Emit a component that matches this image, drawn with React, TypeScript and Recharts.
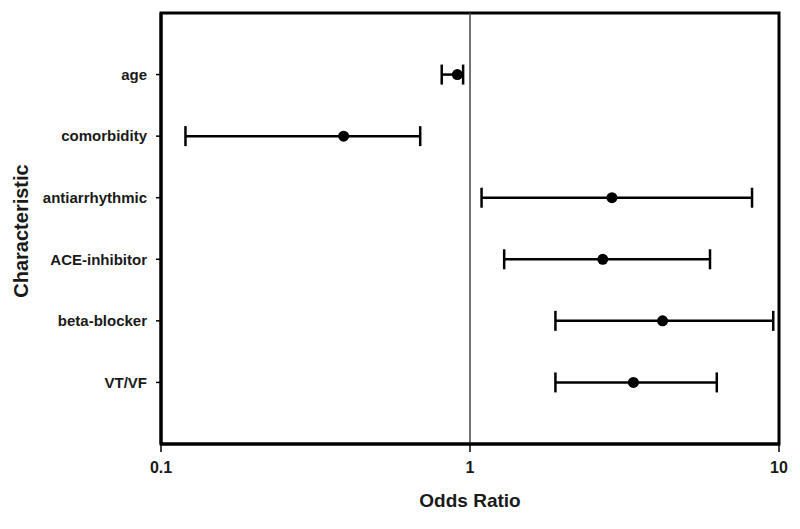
import {
  ScatterChart,
  Scatter,
  ErrorBar,
  XAxis,
  YAxis,
  ReferenceLine,
  ReferenceArea,
  Customized,
} from "recharts";

const categories = [
  "age",
  "comorbidity",
  "antiarrhythmic",
  "ACE-inhibitor",
  "beta-blocker",
  "VT/VF",
];
const oddsRatio = [0.91, 0.39, 2.88, 2.69, 4.2, 3.38];
const lowerCI = [0.81, 0.12, 1.09, 1.29, 1.89, 1.89];
const upperCI = [0.95, 0.69, 8.18, 5.98, 9.58, 6.29];
const xTicks = [0.1, 1, 10];

const FONT = '"Liberation Sans", Arial, Helvetica, sans-serif';

// ErrorBar wants offsets from the point, not absolute bounds
const data = categories.map((name, i) => ({
  name,
  pos: i + 1,
  or: oddsRatio[i],
  err: [oddsRatio[i] - lowerCI[i], upperCI[i] - oddsRatio[i]],
}));

const AxisTitles = () => (
  <g fontFamily={FONT} fontWeight="bold" fill="#1a1a1a">
    <text x={470} y={500} fontSize={19} textAnchor="middle" dominantBaseline="central">
      Odds Ratio
    </text>
    <text
      x={21}
      y={231}
      fontSize={20}
      textAnchor="middle"
      dominantBaseline="central"
      transform="rotate(-90 21 231)"
    >
      Characteristic
    </text>
  </g>
);

const Dot = (props: any) => {
  const { cx, cy } = props;
  return <circle cx={cx} cy={cy} r={5.5} fill="#000" />;
};

export default function App() {
  return (
    <div style={{ position: "absolute", left: 0, top: 0, width: 800, height: 529, background: "#fff" }}>
      <ScatterChart
        width={800}
        height={529}
        margin={{ top: 13, right: 21, bottom: 55, left: 41 }}
      >
        <XAxis
          type="number"
          dataKey="or"
          scale="log"
          domain={[0.1, 10]}
          ticks={xTicks}
          allowDataOverflow
          tickFormatter={(v: number) => String(v)}
          height={30}
          axisLine={{ stroke: "#000", strokeWidth: 3 }}
          tickLine={{ stroke: "#000", strokeWidth: 1.5 }}
          tickSize={8}
          tickMargin={10}
          tick={{ fontFamily: FONT, fontSize: 16, fontWeight: "bold", fill: "#1a1a1a" }}
        />
        <YAxis
          type="number"
          dataKey="pos"
          domain={[0, 7]}
          ticks={[1, 2, 3, 4, 5, 6]}
          reversed
          width={120}
          tickFormatter={(v: number) => categories[v - 1] ?? ""}
          axisLine={{ stroke: "#000", strokeWidth: 3 }}
          tickLine={{ stroke: "#000", strokeWidth: 1.5 }}
          tickSize={5}
          tickMargin={9}
          tick={{ fontFamily: FONT, fontSize: 15, fontWeight: "bold", fill: "#1a1a1a" }}
        />
        <ReferenceArea
          x1={0.1}
          x2={10}
          y1={0}
          y2={7}
          fill="none"
          stroke="#000"
          strokeWidth={3}
          ifOverflow="visible"
        />
        <ReferenceLine x={1} stroke="#444" strokeWidth={1.5} />
        <Scatter data={data} shape={Dot} isAnimationActive={false}>
          <ErrorBar
            dataKey="err"
            direction="x"
            width={10}
            stroke="#000"
            strokeWidth={2.5}
            isAnimationActive={false}
          />
        </Scatter>
        <Customized component={AxisTitles} />
      </ScatterChart>
    </div>
  );
}
